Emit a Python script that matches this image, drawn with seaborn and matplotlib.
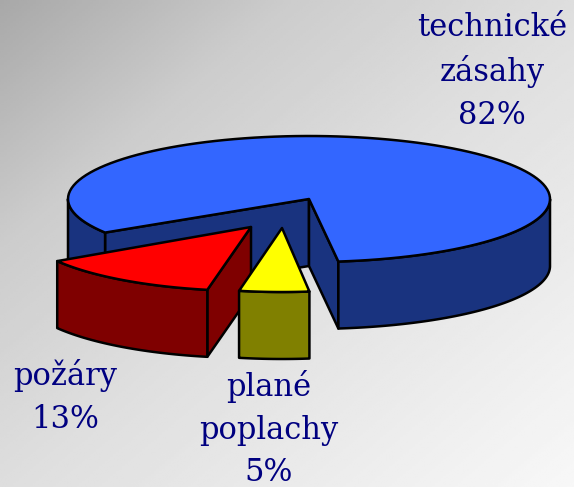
import numpy as np
import matplotlib
matplotlib.use("Agg")
import matplotlib.pyplot as plt
import seaborn as sns
from matplotlib.patches import Polygon

# data
categories = ["technické\nzásahy", "požáry", "plané\npoplachy"]
shares = [82, 13, 5]
top_colors = ["#3366FF", "#FF0000", "#FFFF00"]
side_colors = ["#19337F", "#7F0000", "#808000"]

START_ANGLE = 277
DEPTH = 67
LINE = 1.8
TEXT_COLOR = "#000080"

# slice layout: centre x, centre y, radius x, radius y
geometry = [(309, 199, 241, 63), (251, 227, 229, 64), (282, 228, 225, 64)]
label_pos = [(492, 71), (65, 397), (269, 429)]

sns.set_theme(style="white")
plt.rcParams["font.family"] = ["DejaVu Serif"]


def arc(a0, a1, g):
    """ Points on the ellipse of slice g between two angles in degrees. """
    cx, cy, rx, ry = g
    t = np.radians(np.linspace(a0, a1, 120))
    return np.column_stack([cx + rx * np.cos(t), cy - ry * np.sin(t)])


def add_poly(ax, pts, color):
    ax.add_patch(Polygon(pts, closed=True, facecolor=color, edgecolor="black",
                         linewidth=LINE, joinstyle="round"))


def add_wall(ax, pts, color):
    """ Extrude a polyline down by the pie depth. """
    pts = np.asarray(pts)
    add_poly(ax, np.vstack([pts, (pts + [0, DEPTH])[::-1]]), color)


def draw_slice(ax, a0, a1, g, top, side):
    centre = np.array([g[0], g[1]])
    rim = arc(a0, a1, g)
    # cut faces only when they look towards the viewer
    if np.sin(np.radians(a1 + 90)) < 0:
        add_wall(ax, [centre, rim[-1]], side)
    if np.sin(np.radians(a0 - 90)) < 0:
        add_wall(ax, [centre, rim[0]], side)
    for lo, hi in [(180, 360), (540, 720)]:
        s, e = max(a0, lo), min(a1, hi)
        if s < e:
            add_wall(ax, arc(s, e, g), side)
    add_poly(ax, np.vstack([centre, rim]), top)


fig = plt.figure(figsize=(5.74, 4.87), dpi=100)
ax = fig.add_axes([0, 0, 1, 1])
ax.axis("off")

# diagonal background gradient
yy, xx = np.mgrid[0:1:200j, 0:1:200j]
ramp = (xx * 0.5 + yy * 0.5)
shade = np.interp(ramp, [0, 0.25, 0.5, 1], [0.66, 0.80, 0.87, 0.97])
ax.imshow(shade, cmap="gray", vmin=0, vmax=1, extent=(0, 574, 487, 0),
          aspect="auto", interpolation="bilinear", zorder=0)
ax.set_xlim(0, 574)
ax.set_ylim(487, 0)

angle = START_ANGLE
spans = []
for s in shares:
    spans.append((angle, angle + s / sum(shares) * 360))
    angle = spans[-1][1]

for i in range(len(shares)):
    draw_slice(ax, spans[i][0], spans[i][1], geometry[i], top_colors[i], side_colors[i])

for name, share, pos in zip(categories, shares, label_pos):
    ax.text(pos[0], pos[1], "{}\n{}%".format(name, share), ha="center", va="center",
            color=TEXT_COLOR, fontsize=22, linespacing=1.48)

fig.savefig("out.png", dpi=100)
